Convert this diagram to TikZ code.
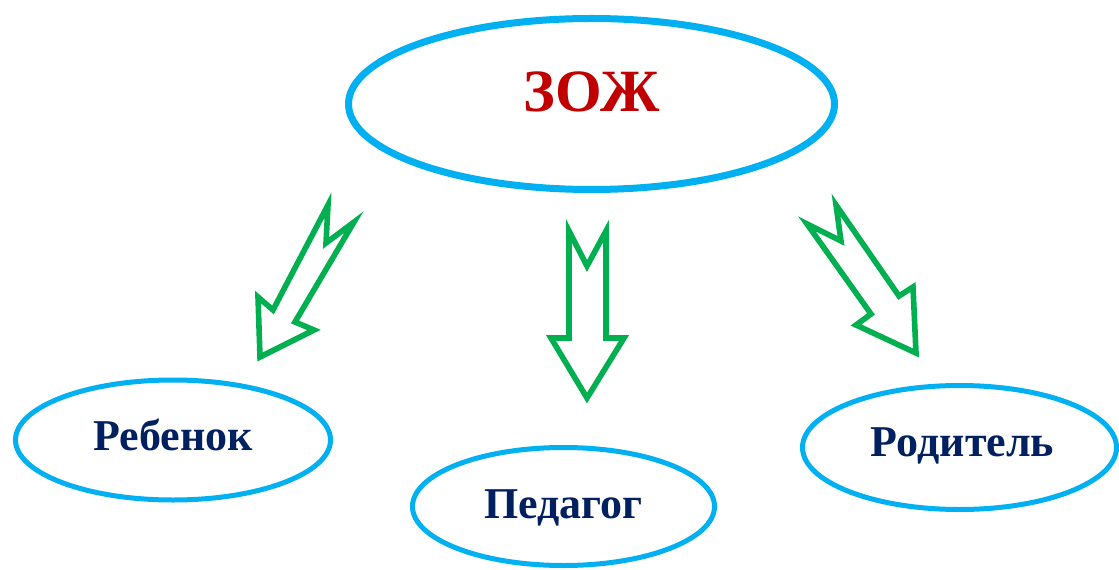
\documentclass[tikz,border=0pt]{standalone}
\usepackage{fontspec}
\setmainfont{Liberation Serif}
\usetikzlibrary{shapes.geometric}
\definecolor{ellblue}{HTML}{00B0F0}
\definecolor{arrgreen}{HTML}{00B050}
\definecolor{zred}{HTML}{C00000}
\definecolor{navy}{HTML}{002060}
\tikzset{
  ellbase/.style={ellipse, draw=ellblue, inner sep=0pt, text depth=0pt},
  bigell/.style={ellbase, line width=5.25pt, minimum width=486*0.75pt, minimum height=171*0.75pt,
    font=\fontsize{45}{50}\selectfont\bfseries, text=zred, text height=29.8pt},
  smallell/.style={ellbase, line width=3.75pt, text height=21.8pt,
    font=\fontsize{33}{38}\selectfont\bfseries, text=navy},
  blockarrow/.style={draw=arrgreen, line width=4.2pt, line join=miter, miter limit=10, fill=white}
}
\begin{document}
\begin{tikzpicture}[x=0.75pt,y=-0.75pt]
\useasboundingbox (0,0) rectangle (1119,570);
\clip (0,0) rectangle (1119,570);
\fill[white] (0,0) rectangle (1119,570);

\node[bigell] (zozh) at (591.5,104) {\raisebox{9pt}{ЗОЖ}};

\node[smallell, minimum width=315*0.75pt, minimum height=120*0.75pt] (child) at (173,440)
  {\raisebox{3.4pt}{Ребенок}};
\node[smallell, minimum width=302*0.75pt, minimum height=118*0.75pt] (teacher) at (563.5,506.5)
  {\raisebox{2.25pt}{Педагог}};
\node[smallell, minimum width=314*0.75pt, minimum height=124*0.75pt] (parent) at (959.5,447.5)
  {\hspace*{4.5pt}\raisebox{4.5pt}{Родитель}};

% left arrow
\draw[blockarrow] (328,205) -- (326,243) -- (354,222) -- (295,322) -- (314,330)
  -- (260,357) -- (258,297) -- (273,310) -- cycle;
% middle arrow
\draw[blockarrow] (569,231) -- (587,266) -- (606,231) -- (606,338) -- (624,338)
  -- (587,398) -- (551,338) -- (569,338) -- cycle;
% right arrow
\draw[blockarrow] (836,205) -- (899,296) -- (913,287) -- (916,353) -- (856,325)
  -- (871,314) -- (807,224) -- (841,241) -- cycle;
\end{tikzpicture}
\end{document}
